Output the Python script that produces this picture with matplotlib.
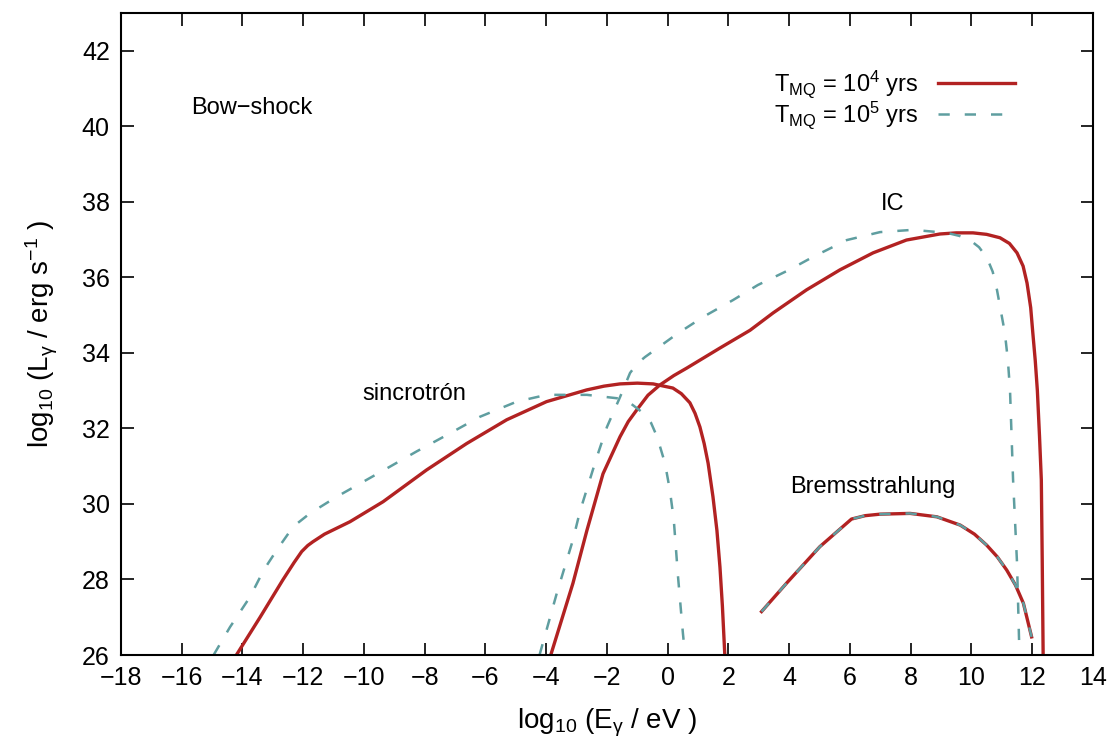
import matplotlib
matplotlib.use('Agg')
import matplotlib.pyplot as plt
import numpy

plt.rcParams['font.family'] = ['Liberation Sans', 'DejaVu Sans']
plt.rcParams['mathtext.fontset'] = 'custom'
plt.rcParams['mathtext.rm'] = 'Liberation Sans'
plt.rcParams['mathtext.it'] = 'Liberation Sans'
plt.rcParams['mathtext.default'] = 'regular'

# log10(E / eV) and log10(L / erg s^-1)
# synchrotron, T_MQ = 1e4 yrs
sync4_x = [-14.2, -13.42, -12.67, -12.3, -12.05, -11.85, -11.68, -11.3,
           -10.46, -9.37, -7.94, -6.62, -5.3, -3.99, -2.67, -2.1, -1.57,
           -1.0, -0.48, 0.17, 0.45, 0.73, 0.9, 1.06, 1.2, 1.33, 1.49, 1.62,
           1.72, 1.8, 1.88]
sync4_y = [26.0, 27.0, 27.99, 28.45, 28.74, 28.9, 29.0, 29.2,
           29.53, 30.06, 30.9, 31.6, 32.23, 32.71, 33.02, 33.12, 33.18,
           33.2, 33.18, 33.07, 32.92, 32.68, 32.4, 32.04, 31.6, 31.08, 30.19,
           29.3, 28.33, 27.3, 26.0]
# synchrotron, T_MQ = 1e5 yrs
sync5_x = [-14.95, -14.41, -13.75, -13.3, -12.87, -12.33, -11.78, -10.9,
           -9.91, -9.14, -8.27, -7.17, -6.18, -4.97, -3.99, -2.66, -1.67,
           -1.2, -0.81, -0.55, -0.35, -0.09, 0.07, 0.2, 0.34, 0.5, 0.57]
sync5_y = [26.0, 26.74, 27.54, 28.25, 28.78, 29.4, 29.75, 30.19,
           30.64, 30.99, 31.39, 31.87, 32.31, 32.71, 32.89, 32.89, 32.8,
           32.65, 32.41, 32.15, 31.78, 31.08, 30.37, 29.58, 28.07, 26.58,
           26.0]
# inverse Compton, T_MQ = 1e4 yrs
ic4_x = [-3.85, -3.12, -2.66, -2.13, -1.57, -1.3, -1.01, -0.65, -0.26, 0.2,
         0.63, 1.72, 2.71, 3.47, 4.57, 5.67, 6.76, 7.86, 8.96, 9.5, 10.05,
         10.5, 10.94, 11.25, 11.5, 11.7, 11.83, 11.95, 12.02, 12.1, 12.17,
         12.24, 12.3, 12.33, 12.36]
ic4_y = [26.0, 27.9, 29.3, 30.8, 31.78, 32.18, 32.5, 32.88, 33.15, 33.4,
         33.6, 34.13, 34.6, 35.06, 35.67, 36.2, 36.65, 36.99, 37.15, 37.18,
         37.18, 37.14, 37.05, 36.9, 36.65, 36.3, 35.85, 35.2, 34.53, 33.8,
         33.0, 31.8, 30.64, 28.5, 26.0]
# inverse Compton, T_MQ = 1e5 yrs
ic5_x = [-4.22, -3.65, -3.12, -2.89, -2.33, -2.0, -1.57, -1.24, -1.0, -0.75,
         -0.3, 0.3, 1.16, 2.15, 2.97, 4.0, 4.8, 5.9, 6.99, 8.07, 9.19, 9.6,
         9.95, 10.25, 10.51, 10.7, 10.84, 10.97, 11.1, 11.2, 11.27, 11.37,
         11.5, 11.58]
ic5_y = [26.0, 27.64, 29.05, 29.8, 31.25, 32.04, 32.83, 33.47, 33.72, 33.89,
         34.15, 34.5, 34.95, 35.4, 35.8, 36.2, 36.55, 36.99, 37.2, 37.26,
         37.18, 37.1, 36.99, 36.8, 36.52, 36.15, 35.67, 35.1, 34.53, 33.8,
         33.0, 30.64, 28.44, 26.0]
# Bremsstrahlung (same for both ages)
brems_x = [3.09, 3.91, 5.01, 6.05, 6.5, 6.99, 7.98, 8.86, 9.63, 10.1, 10.5,
           10.85, 11.16, 11.45, 11.71, 11.98]
brems_y = [27.15, 27.9, 28.87, 29.6, 29.69, 29.73, 29.75, 29.66, 29.44,
           29.2, 28.91, 28.6, 28.25, 27.85, 27.37, 26.48]

red = '#b22222'
teal = '#5f9ea0'
fs = 17

fig = plt.figure(figsize=(11.18, 7.49), dpi=100)
ax = fig.add_axes([0.1082, 0.1255, 0.8694, 0.857])

kw4 = dict(color=red, lw=2.4, solid_joinstyle='round')
kw5 = dict(color=teal, lw=1.8, ls=(0, (4.5, 6)))

ax.plot(sync4_x, sync4_y, label='T$_{MQ}$ = 10$^{4}$ yrs', **kw4)
ax.plot(ic4_x, ic4_y, **kw4)
ax.plot(brems_x, brems_y, **kw4)
ax.plot(sync5_x, sync5_y, label='T$_{MQ}$ = 10$^{5}$ yrs', **kw5)
ax.plot(ic5_x, ic5_y, **kw5)
ax.plot(brems_x, brems_y, **kw5)

ax.set_xlim(-18, 14)
ax.set_ylim(26, 43)
ax.set_xticks(numpy.arange(-18, 15, 2))
ax.set_yticks(numpy.arange(26, 43, 2))
ax.tick_params(direction='in', top=True, right=True, length=9, width=1.2,
               labelsize=18, pad=8)
for s in ax.spines.values():
    s.set_linewidth(1.5)

ax.set_xlabel('log$_{10}$ (E$_{\\gamma}$ / eV )', fontsize=20, labelpad=12)
ax.set_ylabel('log$_{10}$ (L$_{\\gamma}$ / erg s$^{-1}$ )', fontsize=20,
              labelpad=16)

ax.text(-15.7, 40.5, 'Bow\u2212shock', fontsize=fs, va='center')
ax.text(-8.33, 32.9, 'sincrotrón', fontsize=fs, ha='center', va='center')
ax.text(7.4, 37.95, 'IC', fontsize=fs, ha='center', va='center')
ax.text(6.75, 30.45, 'Bremsstrahlung', fontsize=fs, ha='center',
        va='center')

ax.legend(loc='upper right', bbox_to_anchor=(0.93, 0.928), frameon=False,
          markerfirst=False, fontsize=fs, handlelength=3.3,
          labelspacing=-0.02, borderaxespad=0)

fig.savefig('out.png', dpi=100)
